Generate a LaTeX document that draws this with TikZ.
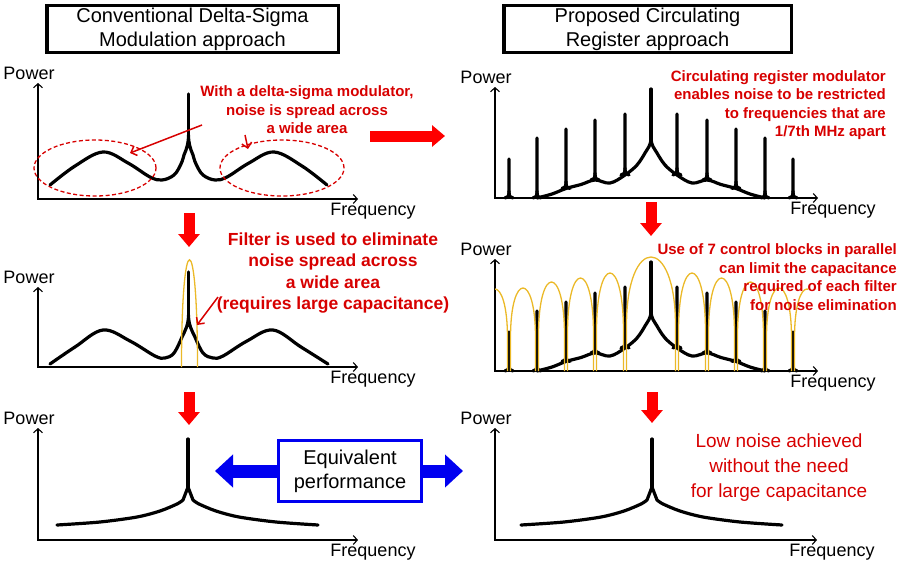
\documentclass[tikz,border=0pt]{standalone}
\usepackage{fontspec}
\setmainfont{Liberation Sans}
\usetikzlibrary{arrows.meta}

\definecolor{notered}{RGB}{215,0,0}
\definecolor{flowred}{RGB}{255,0,0}
\definecolor{filteryellow}{RGB}{235,185,40}
\definecolor{equivblue}{RGB}{0,0,240}

\tikzset{
  spec/.style={line width=3.2pt, line join=round, line cap=round},
  filt/.style={filteryellow, line width=1.3pt},
  axisline/.style={line width=1.1pt, {Straight Barb[length=4pt,width=9pt]}-{Straight Barb[length=4pt,width=9pt]}},
  axislabel/.style={font=\fontsize{18}{20}\selectfont, inner sep=0pt},
  titlebox/.style={draw, line width=3.5pt, minimum height=47pt, align=center, inner sep=0pt, font=\fontsize{20}{24}\selectfont},
  note/.style={text=notered, inner sep=0pt, font=\bfseries\fontsize{15}{18.5}\selectfont},
  pointer/.style={notered, line width=1.5pt, -{Straight Barb[length=5pt,width=10pt]}},
  noisering/.style={notered, line width=1.3pt, dash pattern=on 4pt off 2.5pt},
  flowarrow/.style={flowred, line width=11pt, -{Triangle[length=13pt,width=21pt]}},
  equivarrow/.style={equivblue, line width=13pt, -{Triangle[length=18pt,width=32pt]}},
}

% axes of one spectrum: id, axis x, axis top, axis end
\newcommand{\plotaxes}[4]{%
  \draw[axisline] (#2,#3) -- (#2,0) -- (#4,0);
  \node[axislabel] (power#1) at (#2-9,#3+10) {Power};
  \node[axislabel] (freq#1) at (#4+15,-12) {Frequency};
}

% spectrum of the circulating register modulator
\newcommand{\circlines}{%
  \draw[spec] plot[smooth, tension=0.6] coordinates {(537,0) (552,4) (566,9.5) (581,13.5) (595,18) (610,15) (625,23) (637,33) (645,45)}
    .. controls (648,50) and (651,53) .. (651,60)
    .. controls (651,53) and (654,50) .. (657,45)
    -- plot[smooth, tension=0.6] coordinates {(657,45) (665,33) (677,23) (692,15) (707,18) (721,13.5) (736,9.5) (750,4) (765,0)};
  \draw[spec] (651,56) -- (651,109);
  \foreach \sx/\sb/\st in {509/0/39, 537/0/60, 566/9.5/69, 595/18/78, 625/23/84,
                           677/23/84, 707/18/78, 736/9.5/69, 765/0/60, 793/0/39}
    {\draw[spec] (\sx-4,\sb) .. controls (\sx-1,\sb) and (\sx,\sb+2) .. (\sx,\sb+7) -- (\sx,\st);
     \draw[spec] (\sx+4,\sb) .. controls (\sx+1,\sb) and (\sx,\sb+2) .. (\sx,\sb+7);}
}

% single peak after filtering
\newcommand{\peakcurve}{%
  \draw[spec] plot[smooth, tension=0.5] coordinates {(57,15) (100,18) (137,23) (160,29) (177,36) (183,40)}
    -- (188,53) -- (193,40)
    -- plot[smooth, tension=0.5] coordinates {(193,40) (199,36) (216,29) (239,23) (276,18) (318,15)};
  \draw[spec] (188,50) -- (188,101);
}

\begin{document}
\begin{tikzpicture}[x=1pt, y=-1pt]

  \useasboundingbox (0,0) rectangle (900,565);

  % titles
  \node[titlebox, minimum width=291.5pt] (convtitle) at (192.5,29) {Conventional Delta-Sigma\\Modulation approach};
  \node[titlebox, minimum width=287.5pt] (proptitle) at (647.5,29) {Proposed Circulating\\Register approach};

  % delta-sigma spectrum
  \begin{scope}[shift={(0,199)}, y=1pt]
    \plotaxes{a}{38}{116}{358}
    \draw[spec] plot[smooth, tension=0.6] coordinates {(50,14) (75,33) (103,47) (128,36) (150,22) (162,19) (174,24) (181,35) (184,44)}
      .. controls (187,51) and (188.5,56) .. (188.5,64)
      .. controls (188.5,56) and (190,51) .. (193,44)
      -- plot[smooth, tension=0.6] coordinates {(193,44) (196,35) (203,24) (215,19) (227,22) (249,36) (274,47) (302,33) (327,14)};
    \draw[spec] (188.5,60) -- (188.5,105);
  \end{scope}
  \draw[noisering] (95,168) ellipse [x radius=61pt, y radius=28pt];
  \draw[noisering] (282,168) ellipse [x radius=62pt, y radius=28pt];
  \node[note, align=center] (dsnote) at (307,110) {With a delta-sigma modulator,\\noise is spread across\\a wide area};
  \coordinate (dsfrom) at (202,125);
  \coordinate (dsto) at (130,153);
  \coordinate (dsfromb) at (245,135);
  \coordinate (dstob) at (248,149);
  \draw[pointer] (dsfrom) -- (dsto);
  \draw[pointer] (dsfromb) -- (dstob);

  % circulating register spectrum
  \begin{scope}[shift={(0,198)}, y=1pt]
    \plotaxes{b}{495}{111}{818}
    \circlines
  \end{scope}
  \node[note, align=right, anchor=east] (crnote) at (886,105) {Circulating register modulator\\enables noise to be restricted\\to frequencies that are\\1/7th MHz apart};

  % filtered delta-sigma spectrum
  \begin{scope}[shift={(0,367)}, y=1pt]
    \plotaxes{c}{38}{80}{358}
    \draw[spec] plot[smooth, tension=0.6] coordinates {(50,3) (75,20) (103,37) (130,26) (155,11) (165,9) (174,14) (182,30)}
      .. controls (185,36) and (188.5,42) .. (188.5,52)
      .. controls (188.5,42) and (192,36) .. (195,30)
      -- plot[smooth, tension=0.6] coordinates {(195,30) (203,14) (213,9) (223,11) (247,26) (273,37) (301,20) (328,3)};
    \draw[spec] (188.5,48) -- (188.5,95);
    \draw[filt] (181.5,0) .. controls (181.5,143) and (197.5,143) .. (197.5,0);
  \end{scope}
  \node[note, align=center, font=\bfseries\fontsize{17.5}{21.3}\selectfont] (filternote) at (333,273) {Filter is used to eliminate\\noise spread across\\a wide area\\(requires large capacitance)};
  \coordinate (ffrom) at (218,297);
  \coordinate (fto) at (197,325);
  \draw[pointer] (ffrom) -- (fto);

  % filtered circulating register spectrum
  \begin{scope}[shift={(0,371)}, y=1pt]
    \plotaxes{d}{495}{112}{818}
    \circlines
    \begin{scope}
      \clip (495,-3) rectangle (808,130);
      \foreach \ax/\bx/\ah in {481/509/82, 509/537/83, 537/566/89, 566/595/93, 595/625/98, 625/677/114,
                               677/707/98, 707/736/93, 736/765/89, 765/793/83, 793/821/82}
        \draw[filt] (\ax+1.5,0) -- (\ax+1.5,\ah*0.4)
          .. controls (\ax+1.5,\ah*1.2) and (\bx-1.5,\ah*1.2) .. (\bx-1.5,\ah*0.4) -- (\bx-1.5,0);
    \end{scope}
  \end{scope}
  \node[note, align=right, anchor=east] (blocknote) at (897,277) {Use of 7 control blocks in parallel\\can limit the capacitance\\required of each filter\\for noise elimination};

  % results
  \begin{scope}[shift={(0,540)}, y=1pt]
    \plotaxes{e}{38}{112}{358}
    \peakcurve
  \end{scope}
  \begin{scope}[shift={(0,540)}, y=1pt]
    \plotaxes{f}{495}{112}{817}
    \begin{scope}[xshift=464pt]
      \peakcurve
    \end{scope}
  \end{scope}
  \node[note, align=center, font=\fontsize{19}{25}\selectfont] (lownote) at (779,468) {Low noise achieved\\without the need\\for large capacitance};

  % equivalence
  \node[draw=equivblue, line width=3pt, fill=white, minimum width=143pt, minimum height=61pt,
        align=center, inner sep=0pt, font=\fontsize{20}{24}\selectfont] (equiv) at (350,471) {Equivalent\\performance};
  \coordinate (eqleft) at (215,471);
  \coordinate (eqright) at (463,471);
  \draw[equivarrow] (equiv.west) -- (eqleft);
  \draw[equivarrow] (equiv.east) -- (eqright);

  % flow arrows
  \coordinate (stepa) at (370,136);
  \coordinate (stepb) at (445,136);
  \draw[flowarrow] (stepa) -- (stepb);
  \coordinate (flowla) at (189,213);
  \coordinate (flowlb) at (189,247);
  \draw[flowarrow] (flowla) -- (flowlb);
  \coordinate (flowlc) at (189,392);
  \coordinate (flowld) at (189,425);
  \draw[flowarrow] (flowlc) -- (flowld);
  \coordinate (flowra) at (651,202);
  \coordinate (flowrb) at (651,236);
  \draw[flowarrow] (flowra) -- (flowrb);
  \coordinate (flowrc) at (652,392);
  \coordinate (flowrd) at (652,423);
  \draw[flowarrow] (flowrc) -- (flowrd);

\end{tikzpicture}
\end{document}
